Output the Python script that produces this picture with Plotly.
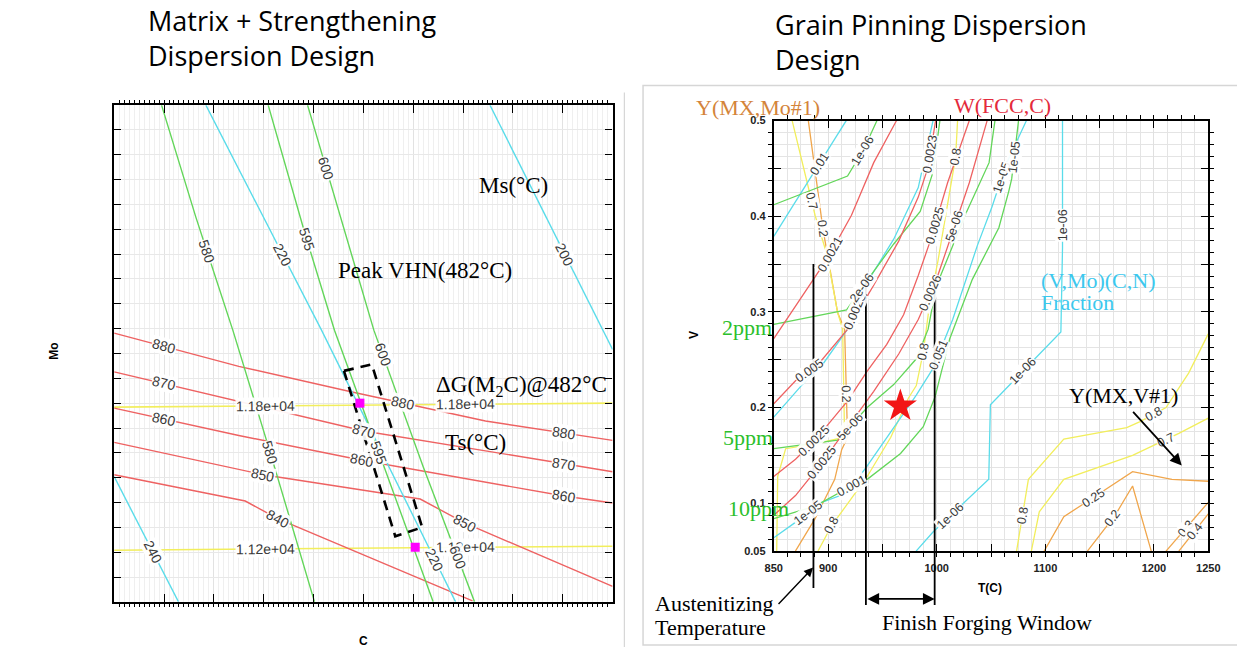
import numpy as np
import plotly.graph_objects as go

W, H = 1237, 653

# ====================== LEFT PANEL DATA (C vs Mo, unlabeled scales) ======================
# Peak VHN(482°C) contours (green)
VHN_C = [[0.095, 0.164, 0.238, 0.313, 0.402],
         [0.309, 0.382, 0.442, 0.531, 0.640],
         [0.388, 0.521, 0.620, 0.723]]
VHN_MO = [[1.0, 0.774, 0.547, 0.301, 0.0],
          [1.0, 0.744, 0.547, 0.301, 0.0],
          [1.0, 0.547, 0.272, 0.0]]
VHN_LABELS = [[("580", "y", 0.705), ("580", "y", 0.30)],
              [("595", "y", 0.73), ("595", "y", 0.30)],
              [("600", "y", 0.872), ("600", "y", 0.498), ("600", "y", 0.09)]]

# Ms(°C) contours (cyan)
MS_C = [[0.184, 0.416, 0.685], [0.754, 1.0], [0.0, 0.129]]
MS_MO = [[1.0, 0.547, 0.0], [1.0, 0.508], [0.252, 0.0]]
MS_LABELS = [[("220", "y", 0.699), ("220", "y", 0.085)],
             [("200", "y", 0.699)],
             [("240", "y", 0.10)]]

# Ts(°C) contours (red)
TS_C = [[0.0, 0.25, 0.475, 0.745, 1.0],
        [0.0, 0.25, 0.501, 0.903, 1.0],
        [0.0, 0.25, 0.497, 0.903, 1.0],
        [0.0, 0.299, 0.614, 0.703, 1.0],
        [0.0, 0.263, 0.329, 0.719]]
TS_MO = [[0.541, 0.474, 0.423, 0.364, 0.325],
         [0.463, 0.404, 0.344, 0.278, 0.262],
         [0.390, 0.335, 0.285, 0.213, 0.199],
         [0.321, 0.256, 0.207, 0.159, 0.031],
         [0.256, 0.203, 0.167, 0.002]]
TS_LABELS = [[("880", "x", 0.099), ("880", "x", 0.58), ("880", "x", 0.903)],
             [("870", "x", 0.099), ("870", "x", 0.501), ("870", "x", 0.903)],
             [("860", "x", 0.099), ("860", "x", 0.497), ("860", "x", 0.903)],
             [("850", "x", 0.299), ("850", "x", 0.703)],
             [("840", "x", 0.329)]]

# ΔG(M2C)@482°C contours (yellow)
DG_C = [[0.0, 1.0], [0.0, 1.0]]
DG_MO = [[0.392, 0.400], [0.104, 0.112]]
DG_LABELS = [[("1.18e+04", "x", 0.303), ("1.18e+04", "x", 0.705)],
             [("1.12e+04", "x", 0.303), ("1.12e+04", "x", 0.705)]]

# design points and design window
DESIGN_C = [0.493, 0.604]
DESIGN_MO = [0.400, 0.110]
WINDOW_C = [0.461, 0.517, 0.618, 0.564, 0.461]
WINDOW_MO = [0.465, 0.478, 0.150, 0.132, 0.465]

# ====================== RIGHT PANEL DATA (T(C) vs V) ======================
X_TICK_VALUES = [850, 900, 950, 1000, 1050, 1100, 1150, 1200, 1250]
X_TICK_LABELS = ["850", "900", "", "1000", "", "1100", "", "1200", "1250"]
Y_TICK_VALUES = [0.05, 0.1, 0.15, 0.2, 0.25, 0.3, 0.35, 0.4, 0.45, 0.5]
Y_TICK_LABELS = ["0.05", "0.1", "", "0.2", "", "0.3", "", "0.4", "", "0.5"]

# W(FCC,C) (red)
WFCC_T = [[850, 876, 900, 921.5, 942, 963],
          [850, 870, 890, 918, 942, 965, 983, 992, 999],
          [850, 870, 888, 918, 936, 954, 969.5, 983, 994, 1010, 1030],
          [850, 870, 894, 918, 942, 965, 983, 1001, 1016.5, 1030, 1046.4]]
WFCC_V = [[0.272, 0.316, 0.357, 0.401, 0.456, 0.5],
          [0.204, 0.228, 0.244, 0.282, 0.328, 0.374, 0.420, 0.451, 0.5],
          [0.128, 0.146, 0.166, 0.207, 0.238, 0.266, 0.297, 0.338, 0.374, 0.435, 0.5],
          [0.0875, 0.108, 0.142, 0.179, 0.217, 0.256, 0.292, 0.338, 0.391, 0.435, 0.5]]
WFCC_LABELS = [[("0.0021", "y", 0.36)],
               [("0.005", "y", 0.238), ("0.0023", "y", 0.465)],
               [("0.0025", "y", 0.165), ("0.0025", "y", 0.39)],
               [("0.0025", "y", 0.142), ("0.0026", "y", 0.32), ("5e-06", "y", 0.39)]]

# (V,Mo)(C,N) fraction (cyan)
VMO_T = [[850, 916.7],
         [850, 876.2, 894.3, 917.9, 936, 960.4, 983, 996.6],
         [850, 869.9, 894.3, 917.9, 936, 954.1, 966.7, 981.2, 996.6, 1014.7, 1037.3, 1050.9, 1064.5, 1082.6],
         [981, 996.6, 1047.9, 1049.4, 1114.3, 1115.8, 1115.8]]
VMO_V = [[0.379, 0.5],
         [0.190, 0.224, 0.244, 0.282, 0.331, 0.376, 0.430, 0.5],
         [0.064, 0.080, 0.101, 0.111, 0.139, 0.169, 0.190, 0.213, 0.241, 0.292, 0.369, 0.410, 0.456, 0.5],
         [0.05, 0.070, 0.125, 0.203, 0.279, 0.367, 0.5]]
VMO_LABELS = [[("0.01", "y", 0.455)],
              [("0.0023", "y", 0.30)],
              [("1e-05", "y", 0.09), ("0.051", "y", 0.255), ("1e-05", "y", 0.44)],
              [("1e-06", "y", 0.087), ("1e-06", "y", 0.238), ("1e-06", "y", 0.39)]]

# ppm lines (green)
PPM_T = [[850, 917.9, 933.3, 945],
         [850, 917, 936, 960.4, 984.8, 996.6, 1002.9],
         [850, 908.8, 936, 960.4, 981.2, 992.1, 999.3, 1012, 1026.5, 1048.2, 1053.6],
         [850, 888, 921.5, 936, 966.7, 987.6, 998.4, 1012, 1032.8, 1057.2, 1066.3, 1069, 1075.3]]
PPM_V = [[0.412, 0.442, 0.471, 0.5],
         [0.287, 0.302, 0.333, 0.371, 0.405, 0.446, 0.5],
         [0.157, 0.166, 0.200, 0.224, 0.251, 0.282, 0.326, 0.361, 0.402, 0.456, 0.5],
         [0.084, 0.097, 0.118, 0.125, 0.152, 0.180, 0.211, 0.272, 0.334, 0.388, 0.426, 0.439, 0.5]]
PPM_LABELS = [[("1e-06", "y", 0.468)],
              [("2e-06", "y", 0.325)],
              [("5e-06", "y", 0.18)],
              [("0.001", "y", 0.118), ("1e-05", "y", 0.462)]]

# Y(MX,Mo#1) and Y(MX,V#1) (yellow)
YMX_T = [[866.9, 888, 898.9, 908.8, 913.4, 915.2, 888, 860.9, 853.6, 852.7],
         [890.7, 903.4, 921.5, 936, 957.7, 974, 981.2, 987.6, 993.9, 1001.1, 1010.2, 1017.4, 1019.2],
         [1073.5, 1079, 1084.4, 1117, 1174.9, 1186.7, 1211.1, 1231.9, 1250],
         [1087.1, 1094.4, 1117, 1180.3, 1222.9, 1250]]
YMX_V = [[0.5, 0.401, 0.360, 0.299, 0.282, 0.169, 0.162, 0.157, 0.128, 0.05],
         [0.05, 0.077, 0.105, 0.128, 0.169, 0.210, 0.223, 0.258, 0.312, 0.353, 0.414, 0.462, 0.5],
         [0.05, 0.087, 0.125, 0.167, 0.179, 0.185, 0.200, 0.236, 0.277],
         [0.05, 0.091, 0.125, 0.150, 0.173, 0.189]]
YMX_LABELS = [[("0.7", "f", 0.17)],
              [("0.8", "y", 0.077), ("0.8", "y", 0.258), ("0.8", "y", 0.462)],
              [("0.8", "y", 0.087), ("0.8", "x", 1200)],
              [("0.7", "x", 1211)]]

# low-fraction Y(MX) contours (orange)
YLOW_T = [[881.8, 895.2, 908.8, 915.2, 917.9, 912.5, 906.1, 888, 869.9],
          [1098.9, 1117, 1141.4, 1180.3, 1216.5, 1250],
          [1138.7, 1164, 1180.3, 1197.5],
          [1211.1, 1250],
          [1222.9, 1250]]
YLOW_V = [[0.5, 0.387, 0.299, 0.282, 0.169, 0.156, 0.125, 0.084, 0.05],
          [0.05, 0.086, 0.104, 0.133, 0.125, 0.123],
          [0.05, 0.087, 0.118, 0.05],
          [0.05, 0.101],
          [0.05, 0.089]]
YLOW_LABELS = [[("0.2", "y", 0.387), ("0.2", "f", 0.62)],
               [("0.25", "x", 1144)],
               [("0.2", "x", 1162)],
               [("0.3", "x", 1229)],
               [("0.4", "x", 1237)]]

# process markers
AUSTENITIZING_T = 886.5
AUSTENITIZING_TOP_V = 0.35
FORGING_WINDOW_T = [934.8, 998.1]
FORGING_TOP_V = 0.333
STAR_T = [966.5]
STAR_V = [0.2017]

# ====================== STYLE / LAYOUT CONSTANTS ======================
GREEN = "#63d65a"
CYAN = "#5adcea"
RED = "#ee6262"
YELLOW = "#f2ee5c"
ORANGE = "#f0a64c"
SERIF = "Liberation Serif"
SANS = "Liberation Sans"
LABEL_FONT = dict(family=SANS, size=14, color="#3a3a3a")
RLABEL_FONT = dict(family=SANS, size=12.5, color="#3a3a3a")

LEFT_BOX = (107, 101, 614, 607)      # left, top, right, bottom (px)
RIGHT_BOX = (778, 116.7, 1220, 555.3)
LX, LY = [0, 1], [0, 1]
RX, RY = [850, 1250], [0.05, 0.5]


def dom(box):
    l, t, r, b = box
    return [l / W, r / W], [1 - b / H, 1 - t / H]


def scale(box, xr, yr):
    l, t, r, b = box
    return (r - l) / (xr[1] - xr[0]), (b - t) / (yr[1] - yr[0])


def line_labels(xs, ys, specs, sx, sy, xref, yref, font):
    xs = np.asarray(xs, float)
    ys = np.asarray(ys, float)
    X, Y = xs * sx, -ys * sy
    seg = np.hypot(np.diff(X), np.diff(Y))
    cum = np.concatenate([[0.0], np.cumsum(seg)])
    out = []
    for text, key, val in specs:
        i, t = None, 0.0
        if key == "f":
            s = val * cum[-1]
            i = int(np.clip(np.searchsorted(cum, s) - 1, 0, len(seg) - 1))
            t = (s - cum[i]) / seg[i]
        else:
            arr = xs if key == "x" else ys
            for k in range(len(arr) - 1):
                a, b = arr[k], arr[k + 1]
                if a != b and min(a, b) <= val <= max(a, b):
                    i, t = k, (val - a) / (b - a)
                    break
        if i is None:
            continue
        x = xs[i] + t * (xs[i + 1] - xs[i])
        y = ys[i] + t * (ys[i + 1] - ys[i])
        ang = float(np.degrees(np.arctan2(Y[i + 1] - Y[i], X[i + 1] - X[i])))
        while ang > 89.9:
            ang -= 180
        while ang < -90.1:
            ang += 180
        out.append(dict(x=x, y=y, xref=xref, yref=yref, text=text, showarrow=False,
                        textangle=ang, font=font, bgcolor="rgba(255,255,255,0.92)",
                        borderpad=0, xanchor="center", yanchor="middle"))
    return out


fig = go.Figure()
annotations = []


def add_family(xl, yl, labels, color, width, axes, box, xr, yr, font):
    sx, sy = scale(box, xr, yr)
    for xs, ys, lab in zip(xl, yl, labels):
        fig.add_trace(go.Scatter(x=xs, y=ys, mode="lines", line=dict(color=color, width=width),
                                 xaxis=axes[0], yaxis=axes[1], hoverinfo="skip", showlegend=False))
        annotations.extend(line_labels(xs, ys, lab, sx, sy, axes[0], axes[1], font))


# ---- left panel ----
LA = ("x", "y")
add_family(DG_C, DG_MO, DG_LABELS, YELLOW, 1.6, LA, LEFT_BOX, LX, LY, LABEL_FONT)
add_family(TS_C, TS_MO, TS_LABELS, RED, 1.4, LA, LEFT_BOX, LX, LY, LABEL_FONT)
add_family(MS_C, MS_MO, MS_LABELS, CYAN, 1.4, LA, LEFT_BOX, LX, LY, LABEL_FONT)
add_family(VHN_C, VHN_MO, VHN_LABELS, GREEN, 1.4, LA, LEFT_BOX, LX, LY, LABEL_FONT)
fig.add_trace(go.Scatter(x=WINDOW_C, y=WINDOW_MO, mode="lines",
                         line=dict(color="black", width=2.6, dash="10px,7px"),
                         xaxis="x", yaxis="y", hoverinfo="skip", showlegend=False))
fig.add_trace(go.Scatter(x=DESIGN_C, y=DESIGN_MO, mode="markers",
                         marker=dict(symbol="square", size=9, color="#ff00ff"),
                         xaxis="x", yaxis="y", hoverinfo="skip", showlegend=False))

# ---- right panel ----
RA = ("x2", "y2")
add_family(YLOW_T, YLOW_V, YLOW_LABELS, ORANGE, 1.3, RA, RIGHT_BOX, RX, RY, RLABEL_FONT)
add_family(YMX_T, YMX_V, YMX_LABELS, YELLOW, 1.3, RA, RIGHT_BOX, RX, RY, RLABEL_FONT)
add_family(VMO_T, VMO_V, VMO_LABELS, CYAN, 1.3, RA, RIGHT_BOX, RX, RY, RLABEL_FONT)
add_family(PPM_T, PPM_V, PPM_LABELS, GREEN, 1.3, RA, RIGHT_BOX, RX, RY, RLABEL_FONT)
add_family(WFCC_T, WFCC_V, WFCC_LABELS, RED, 1.3, RA, RIGHT_BOX, RX, RY, RLABEL_FONT)

for t, top in [(AUSTENITIZING_T, AUSTENITIZING_TOP_V)] + [(t, FORGING_TOP_V) for t in FORGING_WINDOW_T]:
    fig.add_trace(go.Scatter(x=[t, t], y=[top, RY[0]], mode="lines", line=dict(color="black", width=1.8),
                             xaxis="x2", yaxis="y2", hoverinfo="skip", showlegend=False))
fig.add_trace(go.Scatter(x=STAR_T, y=STAR_V, mode="markers",
                         marker=dict(symbol="star", size=25, color="#f21616"),
                         xaxis="x2", yaxis="y2", hoverinfo="skip", showlegend=False))

shapes = []
# extensions of the process lines below the axis
shapes.append(dict(type="line", xref="x2", yref="y2 domain", x0=AUSTENITIZING_T, x1=AUSTENITIZING_T,
                   y0=0, y1=-0.086, line=dict(color="black", width=1.8)))
for t in FORGING_WINDOW_T:
    shapes.append(dict(type="line", xref="x2", yref="y2 domain", x0=t, x1=t, y0=0, y1=-0.125,
                       line=dict(color="black", width=1.8)))
# image frames
shapes.append(dict(type="rect", xref="paper", yref="paper", x0=645 / W, x1=1.02, y0=1 - 651 / H,
                   y1=1 - 81 / H, line=dict(color="#d6d6d6", width=1.5)))
shapes.append(dict(type="line", xref="paper", yref="paper", x0=626 / W, x1=626 / W, y0=0,
                   y1=1 - 88 / H, line=dict(color="#d6d6d6", width=1.2)))


def txt(text, px, py, size, color="black", family=SERIF, xanchor="center", angle=0, weight="normal",
        align="center"):
    return dict(x=px / W, y=1 - py / H, xref="paper", yref="paper", text=text, showarrow=False,
                xanchor=xanchor, yanchor="middle", textangle=angle, align=align,
                font=dict(family=family, size=size, color=color, weight=weight))


annotations += [
    txt("Matrix + Strengthening<br>Dispersion Design", 139, 33, 27, family="Open Sans",
        xanchor="left", align="left"),
    txt("Grain Pinning Dispersion<br>Design", 777, 37, 27, family="Open Sans",
        xanchor="left", align="left"),
    txt("Ms(°C)", 513, 183, 23),
    txt("Peak VHN(482°C)", 423, 269, 23),
    txt("ΔG(M<sub>2</sub>C)@482°C", 432, 387, 23, xanchor="left"),
    txt("Ts(°C)", 475, 445, 23),
    txt("Mo", 45, 352, 12, family=SANS, angle=-90, weight="bold"),
    txt("C", 361, 647, 12, family=SANS, weight="bold"),
    txt("Y(MX,Mo#1)", 762, 103, 22, color="#d4843a"),
    txt("W(FCC,C)", 1011, 101, 22, color="#e42a3c"),
    txt("(V,Mo)(C,N)", 1048, 280, 22, color="#3cc8ee", xanchor="left"),
    txt("Fraction", 1048, 302, 22, color="#3cc8ee", xanchor="left"),
    txt("2ppm", 751, 328, 22, color="#2cbf2c"),
    txt("5ppm", 752, 440, 22, color="#2cbf2c"),
    txt("10ppm", 762, 512, 22, color="#2cbf2c"),
    txt("Y(MX,V#1)", 1134, 397, 22),
    txt("Austenitizing", 655, 609, 22, xanchor="left"),
    txt("Temperature", 655, 633, 22, xanchor="left"),
    txt("Finish Forging Window", 995, 628, 22),
    txt("V", 697, 335, 12, family=SANS, angle=-90, weight="bold"),
    txt("T(C)", 998, 593, 12, family=SANS, weight="bold"),
]

# arrows
annotations += [
    dict(x=1193 / W, y=1 - 468 / H, xref="paper", yref="paper", ax=-50, ay=-55, showarrow=True,
         arrowhead=2, arrowsize=1.3, arrowwidth=1.8, arrowcolor="black", text=""),
    dict(x=818 / W, y=1 - 572 / H, xref="paper", yref="paper", ax=-36, ay=38, showarrow=True,
         arrowhead=2, arrowsize=1.3, arrowwidth=1.4, arrowcolor="black", text=""),
    dict(x=FORGING_WINDOW_T[1], y=1 - 604 / H, xref="x2", yref="paper", ax=FORGING_WINDOW_T[0], ay=0,
         axref="x2", ayref="pixel", showarrow=True, arrowhead=2, arrowside="end+start",
         arrowsize=1.3, arrowwidth=1.8, arrowcolor="black", text=""),
]

ldx, ldy = dom(LEFT_BOX)
rdx, rdy = dom(RIGHT_BOX)
frame = dict(showline=True, linecolor="black", mirror="allticks", ticks="inside", tickcolor="black",
             zeroline=False, fixedrange=True)

fig.update_layout(
    width=W, height=H, margin=dict(l=0, r=0, t=0, b=0),
    paper_bgcolor="white", plot_bgcolor="white", showlegend=False,
    xaxis=dict(domain=ldx, range=LX, anchor="y", showticklabels=False, dtick=0.1, tick0=0,
               ticklen=8, tickwidth=1.4, linewidth=2.2, showgrid=True, gridcolor="#e2e2e2",
               minor=dict(dtick=0.01, ticklen=3, tickcolor="black", showgrid=True, gridcolor="#efefef"),
               **frame),
    yaxis=dict(domain=ldy, range=LY, anchor="x", showticklabels=False, dtick=0.05, tick0=0,
               ticklen=7, tickwidth=1.4, linewidth=2.2, showgrid=True, gridcolor="#e8e8e8", **frame),
    xaxis2=dict(domain=rdx, range=RX, anchor="y2", tickvals=X_TICK_VALUES, ticktext=X_TICK_LABELS,
                ticklen=7, tickwidth=1.4, linewidth=2, showgrid=True, gridcolor="#e0e0e0",
                ticklabelstandoff=6,
                tickfont=dict(family=SANS, size=11, color="#222", weight="bold"),
                minor=dict(dtick=12.5, tick0=850, ticklen=4, tickcolor="black", showgrid=True,
                           gridcolor="#e4e4e4"), **frame),
    yaxis2=dict(domain=rdy, range=RY, anchor="x2", tickvals=Y_TICK_VALUES, ticktext=Y_TICK_LABELS,
                ticklen=7, tickwidth=1.4, linewidth=2, showgrid=True, gridcolor="#e0e0e0",
                ticklabelstandoff=4,
                tickfont=dict(family=SANS, size=11, color="#222", weight="bold"),
                minor=dict(dtick=0.0125, tick0=0.05, ticklen=4, tickcolor="black", showgrid=True,
                           gridcolor="#e4e4e4"), **frame),
    shapes=shapes,
    annotations=annotations,
)

fig.write_html("out.html", config={"displayModeBar": False},
               post_script="document.body.style.margin='0px';")
